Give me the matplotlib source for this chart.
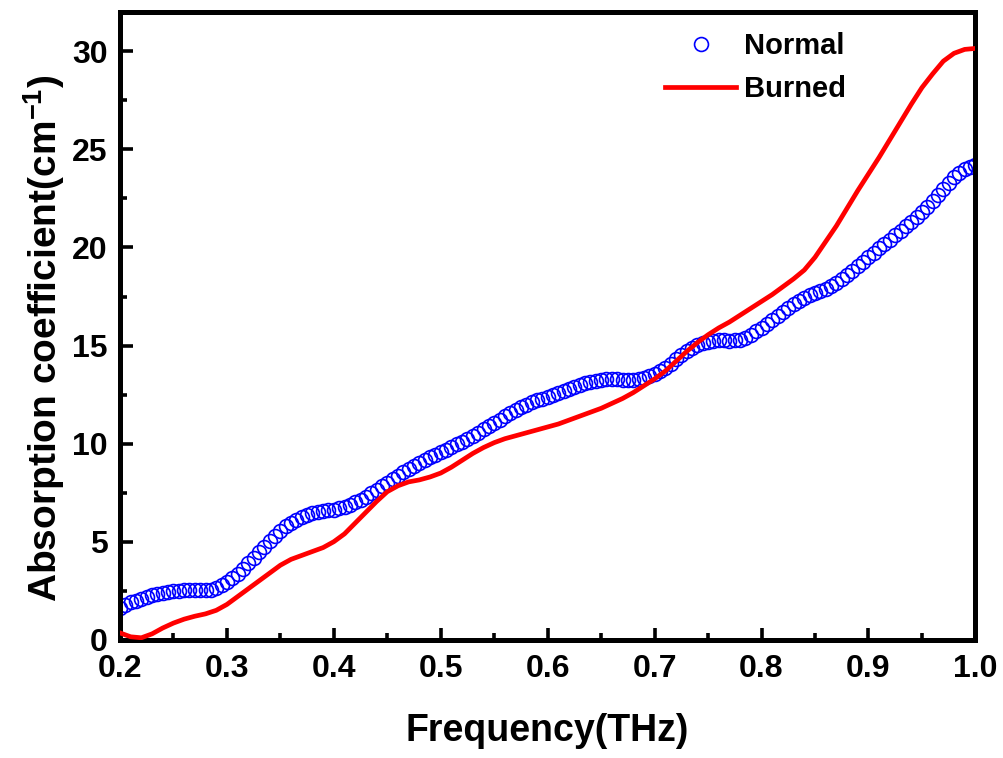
import numpy as np
import matplotlib
matplotlib.use('Agg')
import matplotlib.pyplot as plt
from matplotlib.ticker import MultipleLocator
from matplotlib.lines import Line2D

# absorption of normal tissue, sampled every 0.005 THz from 0.2 to 1.0
normal_freq = np.round(np.linspace(0.2, 1.0, 161), 3)
normal_alpha = [
    1.6, 1.75, 1.9, 2.0, 2.1, 2.2, 2.28, 2.35, 2.4, 2.45,
    2.48, 2.5, 2.52, 2.52, 2.52, 2.52, 2.53, 2.56, 2.65, 2.78,
    2.95, 3.15, 3.35, 3.6, 3.9, 4.15, 4.45, 4.75, 5.05, 5.3,
    5.55, 5.78, 5.95, 6.1, 6.25, 6.35, 6.45, 6.5, 6.55, 6.6,
    6.63, 6.7, 6.78, 6.88, 7.0, 7.15, 7.3, 7.48, 7.65, 7.82,
    8.0, 8.18, 8.36, 8.53, 8.7, 8.85, 9.0, 9.15, 9.3, 9.43,
    9.55, 9.68, 9.82, 9.96, 10.1, 10.25, 10.4, 10.55, 10.72, 10.88,
    11.05, 11.22, 11.4, 11.55, 11.7, 11.85, 11.98, 12.1, 12.2, 12.3,
    12.4, 12.5, 12.6, 12.7, 12.8, 12.9, 13.0, 13.08, 13.15, 13.2,
    13.25, 13.28, 13.3, 13.28, 13.25, 13.24, 13.25, 13.3, 13.37, 13.45,
    13.55, 13.7, 13.88, 14.08, 14.3, 14.52, 14.72, 14.9, 15.05, 15.15,
    15.2, 15.24, 15.26, 15.26, 15.25, 15.26, 15.3, 15.4, 15.55, 15.72,
    15.9, 16.1, 16.3, 16.5, 16.7, 16.9, 17.1, 17.28, 17.45, 17.58,
    17.7, 17.8, 17.9, 18.03, 18.2, 18.4, 18.6, 18.82, 19.05, 19.28,
    19.5, 19.72, 19.95, 20.18, 20.4, 20.62, 20.85, 21.08, 21.3, 21.55,
    21.8, 22.07, 22.35, 22.68, 23.0, 23.3, 23.6, 23.82, 24.0, 24.12,
    24.2,
]

# absorption of burned tissue, every 0.01 THz
burned_freq = np.round(np.linspace(0.2, 1.0, 81), 2)
burned_alpha = [
    0.35, 0.15, 0.1, 0.3, 0.6, 0.85, 1.05, 1.2, 1.32, 1.5,
    1.8, 2.2, 2.6, 3.0, 3.4, 3.8, 4.1, 4.3, 4.5, 4.7,
    5.0, 5.4, 5.95, 6.5, 7.05, 7.55, 7.85, 8.05, 8.15, 8.3,
    8.5, 8.8, 9.15, 9.5, 9.8, 10.05, 10.25, 10.4, 10.55, 10.7,
    10.85, 11.0, 11.2, 11.4, 11.6, 11.8, 12.05, 12.3, 12.6, 12.95,
    13.3, 13.7, 14.2, 14.7, 15.15, 15.55, 15.9, 16.2, 16.55, 16.9,
    17.25, 17.6, 18.0, 18.4, 18.85, 19.5, 20.3, 21.1, 22.0, 22.9,
    23.75, 24.6, 25.5, 26.4, 27.3, 28.15, 28.85, 29.5, 29.9, 30.1,
    30.15,
]

x_ticks = [0.2, 0.3, 0.4, 0.5, 0.6, 0.7, 0.8, 0.9, 1.0]
y_ticks = [0, 5, 10, 15, 20, 25, 30]

plt.rcParams['font.family'] = ['Liberation Sans', 'DejaVu Sans']
plt.rcParams['font.weight'] = 'bold'
plt.rcParams['mathtext.fontset'] = 'custom'
plt.rcParams['mathtext.rm'] = 'Liberation Sans:bold'
plt.rcParams['mathtext.bf'] = 'Liberation Sans:bold'
plt.rcParams['mathtext.default'] = 'bf'


def main():
    fig = plt.figure(figsize=(10.04, 7.58), dpi=100)
    ax = fig.add_axes([0.1195, 0.156, 0.852, 0.828])

    ax.plot(normal_freq, normal_alpha, linestyle='none', marker='o',
            markersize=10, markerfacecolor='none', markeredgecolor='#0000ff',
            markeredgewidth=1.2, label='Normal', zorder=2)
    ax.plot(burned_freq, burned_alpha, color='#ff0000', linewidth=3.4,
            label='Burned', zorder=3)

    ax.set_xlim(0.2, 1.0)
    ax.set_ylim(0, 32)
    ax.set_xticks(x_ticks)
    ax.set_xticklabels(['%.1f' % v for v in x_ticks])
    ax.set_yticks(y_ticks)
    ax.set_yticklabels([str(v) for v in y_ticks])
    ax.xaxis.set_minor_locator(MultipleLocator(0.05))
    ax.yaxis.set_minor_locator(MultipleLocator(2.5))
    ax.tick_params(which='both', direction='in', top=False, right=False,
                   width=2.6, labelsize=23)
    ax.tick_params(which='major', length=9)
    ax.tick_params(axis='x', which='major', pad=10)
    ax.tick_params(axis='y', which='major', pad=9)
    ax.tick_params(which='minor', length=5)
    for s in ax.spines.values():
        s.set_linewidth(3.6)

    ax.set_xlabel('Frequency(THz)', fontsize=27, fontweight='bold')
    ax.xaxis.set_label_coords(0.5, -0.117)
    ax.set_ylabel('Absorption coefficient(cm$^{-1}$)', fontsize=28,
                  fontweight='bold')
    ax.yaxis.set_label_coords(-0.062, 0.48)

    handles = [
        Line2D([], [], linestyle='none', marker='o', markersize=10,
               markerfacecolor='none', markeredgecolor='#0000ff',
               markeredgewidth=1.2),
        Line2D([], [], color='#ff0000', linewidth=3.4),
    ]
    ax.legend(handles, ['Normal', 'Burned'], loc='upper left',
              bbox_to_anchor=(0.637, 0.968), frameon=False, fontsize=21,
              handlelength=2.45, handletextpad=0.25, labelspacing=0.5,
              borderpad=0, borderaxespad=0, numpoints=1)

    fig.savefig('out.png', dpi=100)


if __name__ == '__main__':
    main()
